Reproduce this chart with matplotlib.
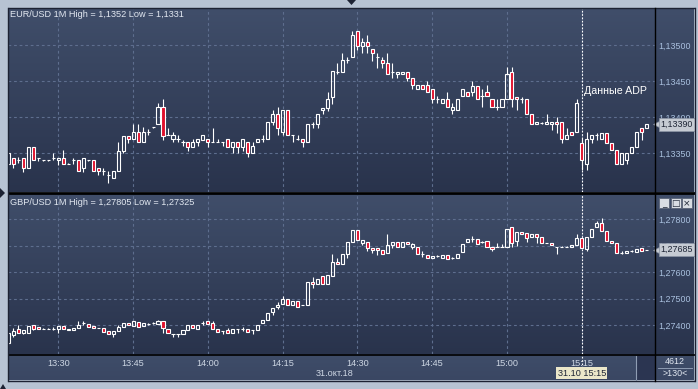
import numpy as np
import matplotlib.pyplot as plt
from matplotlib.colors import LinearSegmentedColormap
from matplotlib.patches import Rectangle, Polygon

plt.rcParams['font.family'] = ['Liberation Sans', 'DejaVu Sans']

W, H = 698, 389

# ---- data (1-minute candles, 31.10.2018, from 13:20) ----
start_time = "13:20"
time_labels = ["13:30", "13:45", "14:00", "14:15", "14:30", "14:45", "15:00", "15:15"]
event_time = "15:15"
event_text = "Данные ADP"
event_stamp = "31.10 15:15"
date_label = "31.окт.18"

eur_title = "EUR/USD 1M High = 1,1352 Low = 1,1331"
gbp_title = "GBP/USD 1M High = 1,27805 Low = 1,27325"

eur_ticks = [1.1335, 1.1340, 1.1345, 1.1350]
gbp_ticks = [1.274, 1.275, 1.276, 1.277, 1.278]

eur_open = [
    1.13335, 1.13343, 1.13340, 1.13343, 1.13329, 1.13358, 1.13343, 1.13340, 1.13340, 1.13343,
    1.13340, 1.13343, 1.13335, 1.13340, 1.13340, 1.13329, 1.13340, 1.13340, 1.13329, 1.13325,
    1.13319, 1.13315, 1.13325, 1.13353, 1.13374, 1.13369, 1.13379, 1.13365, 1.13379, 1.13386,
    1.13390, 1.13414, 1.13375, 1.13369, 1.13369, 1.13365, 1.13365, 1.13358, 1.13365, 1.13368,
    1.13369, 1.13365, 1.13365, 1.13365, 1.13369, 1.13358, 1.13365, 1.13358, 1.13365, 1.13350,
    1.13365, 1.13369, 1.13369, 1.13393, 1.13404, 1.13379, 1.13410, 1.13375, 1.13369, 1.13369,
    1.13365, 1.13390, 1.13390, 1.13410, 1.13413, 1.13428, 1.13463, 1.13463, 1.13479, 1.13483,
    1.13519, 1.13499, 1.13504, 1.13494, 1.13483, 1.13479, 1.13475, 1.13463, 1.13460, 1.13460,
    1.13463, 1.13454, 1.13439, 1.13444, 1.13444, 1.13439, 1.13425, 1.13419, 1.13425, 1.13410,
    1.13410, 1.13429, 1.13435, 1.13435, 1.13443, 1.13429, 1.13435, 1.13425, 1.13414, 1.13414,
    1.13425, 1.13463, 1.13428, 1.13425, 1.13425, 1.13404, 1.13390, 1.13392, 1.13390, 1.13390,
    1.13393, 1.13393, 1.13369, 1.13379, 1.13379, 1.13364, 1.13335, 1.13369, 1.13375, 1.13369,
    1.13378, 1.13364, 1.13354, 1.13335, 1.13340, 1.13350, 1.13358, 1.13385, 1.13385,
]
eur_high = [
    1.13350, 1.13343, 1.13344, 1.13343, 1.13358, 1.13358, 1.13343, 1.13340, 1.13340, 1.13350,
    1.13343, 1.13354, 1.13336, 1.13343, 1.13340, 1.13343, 1.13340, 1.13340, 1.13329, 1.13329,
    1.13325, 1.13325, 1.13365, 1.13374, 1.13374, 1.13390, 1.13390, 1.13386, 1.13383, 1.13386,
    1.13419, 1.13425, 1.13385, 1.13379, 1.13375, 1.13368, 1.13365, 1.13369, 1.13369, 1.13375,
    1.13369, 1.13385, 1.13369, 1.13365, 1.13369, 1.13365, 1.13365, 1.13369, 1.13365, 1.13365,
    1.13369, 1.13375, 1.13393, 1.13410, 1.13414, 1.13410, 1.13410, 1.13375, 1.13375, 1.13369,
    1.13390, 1.13393, 1.13404, 1.13413, 1.13435, 1.13464, 1.13475, 1.13489, 1.13483, 1.13519,
    1.13519, 1.13510, 1.13514, 1.13494, 1.13489, 1.13483, 1.13489, 1.13475, 1.13463, 1.13463,
    1.13463, 1.13454, 1.13444, 1.13444, 1.13450, 1.13439, 1.13429, 1.13425, 1.13435, 1.13419,
    1.13425, 1.13439, 1.13435, 1.13450, 1.13443, 1.13439, 1.13444, 1.13425, 1.13425, 1.13425,
    1.13469, 1.13469, 1.13428, 1.13428, 1.13425, 1.13404, 1.13393, 1.13393, 1.13404, 1.13393,
    1.13400, 1.13393, 1.13385, 1.13379, 1.13425, 1.13371, 1.13379, 1.13375, 1.13378, 1.13378,
    1.13378, 1.13364, 1.13354, 1.13350, 1.13350, 1.13358, 1.13379, 1.13385, 1.13390,
]
eur_low = [
    1.13335, 1.13329, 1.13336, 1.13324, 1.13329, 1.13340, 1.13339, 1.13339, 1.13339, 1.13340,
    1.13333, 1.13335, 1.13335, 1.13335, 1.13325, 1.13324, 1.13339, 1.13325, 1.13319, 1.13319,
    1.13308, 1.13315, 1.13325, 1.13350, 1.13364, 1.13369, 1.13365, 1.13365, 1.13375, 1.13385,
    1.13390, 1.13368, 1.13375, 1.13365, 1.13365, 1.13360, 1.13353, 1.13358, 1.13360, 1.13368,
    1.13358, 1.13365, 1.13365, 1.13360, 1.13358, 1.13350, 1.13350, 1.13353, 1.13344, 1.13350,
    1.13365, 1.13365, 1.13369, 1.13389, 1.13375, 1.13375, 1.13375, 1.13365, 1.13368, 1.13358,
    1.13365, 1.13385, 1.13385, 1.13404, 1.13408, 1.13418, 1.13460, 1.13463, 1.13475, 1.13483,
    1.13493, 1.13489, 1.13489, 1.13478, 1.13468, 1.13468, 1.13460, 1.13454, 1.13454, 1.13460,
    1.13450, 1.13439, 1.13439, 1.13439, 1.13435, 1.13419, 1.13419, 1.13419, 1.13414, 1.13404,
    1.13410, 1.13429, 1.13429, 1.13429, 1.13425, 1.13414, 1.13429, 1.13414, 1.13410, 1.13414,
    1.13425, 1.13414, 1.13410, 1.13419, 1.13404, 1.13390, 1.13390, 1.13390, 1.13390, 1.13382,
    1.13378, 1.13364, 1.13369, 1.13375, 1.13379, 1.13326, 1.13326, 1.13364, 1.13368, 1.13369,
    1.13364, 1.13354, 1.13335, 1.13335, 1.13335, 1.13350, 1.13358, 1.13368, 1.13385,
]
eur_close = [
    1.13350, 1.13335, 1.13340, 1.13329, 1.13358, 1.13340, 1.13343, 1.13340, 1.13340, 1.13343,
    1.13343, 1.13335, 1.13335, 1.13340, 1.13325, 1.13343, 1.13340, 1.13325, 1.13325, 1.13325,
    1.13319, 1.13325, 1.13353, 1.13374, 1.13369, 1.13379, 1.13365, 1.13379, 1.13379, 1.13386,
    1.13414, 1.13374, 1.13375, 1.13375, 1.13369, 1.13365, 1.13358, 1.13365, 1.13369, 1.13375,
    1.13365, 1.13365, 1.13365, 1.13365, 1.13358, 1.13365, 1.13358, 1.13369, 1.13350, 1.13360,
    1.13369, 1.13369, 1.13393, 1.13404, 1.13385, 1.13410, 1.13375, 1.13375, 1.13369, 1.13365,
    1.13390, 1.13390, 1.13404, 1.13413, 1.13425, 1.13464, 1.13463, 1.13479, 1.13479, 1.13514,
    1.13499, 1.13504, 1.13499, 1.13489, 1.13483, 1.13475, 1.13460, 1.13463, 1.13463, 1.13463,
    1.13454, 1.13444, 1.13444, 1.13439, 1.13435, 1.13425, 1.13425, 1.13425, 1.13414, 1.13414,
    1.13425, 1.13439, 1.13429, 1.13443, 1.13425, 1.13429, 1.13429, 1.13414, 1.13414, 1.13425,
    1.13460, 1.13425, 1.13425, 1.13425, 1.13404, 1.13390, 1.13393, 1.13392, 1.13393, 1.13393,
    1.13390, 1.13369, 1.13375, 1.13375, 1.13419, 1.13340, 1.13369, 1.13375, 1.13375, 1.13378,
    1.13364, 1.13354, 1.13335, 1.13350, 1.13350, 1.13358, 1.13379, 1.13379, 1.13390,
]

gbp_open = [
    1.27333, 1.27363, 1.27386, 1.27371, 1.27371, 1.27401, 1.27393, 1.27386, 1.27386, 1.27386,
    1.27386, 1.27397, 1.27382, 1.27382, 1.27390, 1.27408, 1.27405, 1.27397, 1.27390, 1.27390,
    1.27378, 1.27367, 1.27378, 1.27393, 1.27408, 1.27397, 1.27412, 1.27397, 1.27405, 1.27408,
    1.27405, 1.27416, 1.27386, 1.27367, 1.27367, 1.27367, 1.27382, 1.27401, 1.27386, 1.27408,
    1.27416, 1.27408, 1.27386, 1.27378, 1.27382, 1.27371, 1.27386, 1.27386, 1.27386, 1.27382,
    1.27382, 1.27408, 1.27420, 1.27450, 1.27469, 1.27480, 1.27499, 1.27477, 1.27492, 1.27477,
    1.27477, 1.27563, 1.27556, 1.27586, 1.27556, 1.27586, 1.27639, 1.27631, 1.27669, 1.27714,
    1.27760, 1.27711, 1.27714, 1.27692, 1.27692, 1.27684, 1.27673, 1.27703, 1.27714, 1.27695,
    1.27714, 1.27695, 1.27695, 1.27669, 1.27665, 1.27654, 1.27661, 1.27654, 1.27665, 1.27654,
    1.27654, 1.27677, 1.27714, 1.27726, 1.27726, 1.27714, 1.27718, 1.27695, 1.27695, 1.27695,
    1.27695, 1.27771, 1.27718, 1.27752, 1.27748, 1.27733, 1.27745, 1.27733, 1.27711, 1.27711,
    1.27695, 1.27695, 1.27695, 1.27695, 1.27703, 1.27729, 1.27688, 1.27733, 1.27771, 1.27786,
    1.27756, 1.27718, 1.27711, 1.27673, 1.27673, 1.27680, 1.27677, 1.27692, 1.27685,
]
gbp_high = [
    1.27371, 1.27390, 1.27401, 1.27382, 1.27397, 1.27401, 1.27393, 1.27390, 1.27390, 1.27393,
    1.27397, 1.27397, 1.27386, 1.27390, 1.27416, 1.27416, 1.27405, 1.27397, 1.27390, 1.27390,
    1.27378, 1.27378, 1.27401, 1.27408, 1.27408, 1.27416, 1.27412, 1.27408, 1.27408, 1.27412,
    1.27420, 1.27416, 1.27386, 1.27367, 1.27367, 1.27382, 1.27401, 1.27401, 1.27401, 1.27416,
    1.27416, 1.27416, 1.27386, 1.27378, 1.27390, 1.27386, 1.27386, 1.27393, 1.27386, 1.27382,
    1.27401, 1.27420, 1.27446, 1.27465, 1.27488, 1.27510, 1.27499, 1.27492, 1.27492, 1.27477,
    1.27563, 1.27582, 1.27575, 1.27586, 1.27590, 1.27669, 1.27654, 1.27669, 1.27714, 1.27760,
    1.27760, 1.27722, 1.27714, 1.27692, 1.27692, 1.27684, 1.27745, 1.27714, 1.27714, 1.27714,
    1.27714, 1.27711, 1.27695, 1.27680, 1.27665, 1.27661, 1.27665, 1.27665, 1.27665, 1.27658,
    1.27669, 1.27707, 1.27726, 1.27737, 1.27726, 1.27718, 1.27718, 1.27695, 1.27711, 1.27707,
    1.27763, 1.27771, 1.27752, 1.27752, 1.27748, 1.27745, 1.27745, 1.27733, 1.27711, 1.27711,
    1.27695, 1.27699, 1.27699, 1.27703, 1.27745, 1.27729, 1.27733, 1.27763, 1.27794, 1.27805,
    1.27756, 1.27718, 1.27711, 1.27680, 1.27680, 1.27684, 1.27688, 1.27692, 1.27685,
]
gbp_low = [
    1.27326, 1.27356, 1.27371, 1.27367, 1.27371, 1.27382, 1.27386, 1.27386, 1.27386, 1.27382,
    1.27371, 1.27386, 1.27382, 1.27382, 1.27390, 1.27401, 1.27393, 1.27390, 1.27390, 1.27375,
    1.27367, 1.27356, 1.27378, 1.27393, 1.27401, 1.27397, 1.27393, 1.27397, 1.27401, 1.27405,
    1.27405, 1.27371, 1.27371, 1.27356, 1.27356, 1.27367, 1.27382, 1.27390, 1.27386, 1.27401,
    1.27405, 1.27386, 1.27375, 1.27367, 1.27371, 1.27371, 1.27371, 1.27378, 1.27375, 1.27367,
    1.27382, 1.27408, 1.27420, 1.27439, 1.27461, 1.27480, 1.27477, 1.27477, 1.27469, 1.27477,
    1.27477, 1.27541, 1.27556, 1.27556, 1.27556, 1.27586, 1.27631, 1.27631, 1.27654, 1.27714,
    1.27722, 1.27703, 1.27680, 1.27673, 1.27665, 1.27669, 1.27673, 1.27692, 1.27695, 1.27695,
    1.27707, 1.27688, 1.27669, 1.27658, 1.27654, 1.27654, 1.27658, 1.27654, 1.27650, 1.27650,
    1.27654, 1.27677, 1.27714, 1.27714, 1.27707, 1.27711, 1.27695, 1.27680, 1.27695, 1.27695,
    1.27695, 1.27695, 1.27699, 1.27745, 1.27714, 1.27733, 1.27711, 1.27711, 1.27711, 1.27703,
    1.27669, 1.27695, 1.27695, 1.27695, 1.27703, 1.27692, 1.27680, 1.27733, 1.27771, 1.27756,
    1.27718, 1.27711, 1.27673, 1.27669, 1.27673, 1.27677, 1.27677, 1.27680, 1.27685,
]
gbp_close = [
    1.27371, 1.27378, 1.27371, 1.27382, 1.27397, 1.27386, 1.27386, 1.27386, 1.27386, 1.27386,
    1.27397, 1.27386, 1.27386, 1.27390, 1.27401, 1.27408, 1.27393, 1.27390, 1.27390, 1.27375,
    1.27367, 1.27378, 1.27393, 1.27408, 1.27401, 1.27416, 1.27393, 1.27408, 1.27405, 1.27408,
    1.27416, 1.27390, 1.27371, 1.27367, 1.27367, 1.27382, 1.27401, 1.27390, 1.27401, 1.27408,
    1.27405, 1.27386, 1.27375, 1.27378, 1.27371, 1.27386, 1.27386, 1.27386, 1.27375, 1.27382,
    1.27401, 1.27420, 1.27446, 1.27465, 1.27477, 1.27499, 1.27477, 1.27492, 1.27469, 1.27477,
    1.27563, 1.27556, 1.27575, 1.27556, 1.27590, 1.27639, 1.27631, 1.27669, 1.27714, 1.27760,
    1.27722, 1.27722, 1.27692, 1.27684, 1.27684, 1.27669, 1.27703, 1.27714, 1.27695, 1.27714,
    1.27707, 1.27707, 1.27669, 1.27669, 1.27654, 1.27661, 1.27661, 1.27665, 1.27650, 1.27654,
    1.27669, 1.27707, 1.27726, 1.27726, 1.27707, 1.27714, 1.27695, 1.27688, 1.27695, 1.27695,
    1.27763, 1.27711, 1.27752, 1.27745, 1.27729, 1.27745, 1.27733, 1.27711, 1.27711, 1.27703,
    1.27695, 1.27695, 1.27695, 1.27703, 1.27729, 1.27692, 1.27733, 1.27763, 1.27786, 1.27756,
    1.27718, 1.27711, 1.27673, 1.27673, 1.27680, 1.27680, 1.27688, 1.27680, 1.27685,
]

# ---- colours ----
FRAME = "#b7c3d3"
PANEL_TOP = "#404e6a"
PANEL_BOT = "#29334c"
UP_EDGE = "#ffffff"
DOWN_FILL = "#e0102c"
GRID = "#5e6e8e"
TEXT = "#e2e8f1"
PRICE_TXT = "#a9c0de"
TAG = "#c6cbd3"


def minutes(t):
    h, m = t.split(":")
    return int(h) * 60 + int(m)


t0 = minutes(start_time)
tick_pos = [minutes(t) - t0 for t in time_labels]
event_idx = minutes(event_time) - t0

fig = plt.figure(figsize=(W / 100, H / 100), dpi=100)
fig.patch.set_facecolor(FRAME)


def px_axes(x0, y0, x1, y1):
    return fig.add_axes([x0 / W, 1 - y1 / H, (x1 - x0) / W, (y1 - y0) / H])


def gradient(x0, y0, x1, y1, c_top, c_bot):
    a = px_axes(x0, y0, x1, y1)
    cmap = LinearSegmentedColormap.from_list("g", [c_top, c_bot])
    a.imshow(np.linspace(0, 1, 200)[:, None], cmap=cmap, aspect="auto", extent=(0, 1, 0, 1))
    a.set_axis_off()
    return a


def draw_candles(ax, o, h, l, c):
    o, h, l, c = map(np.asarray, (o, h, l, c))
    x = np.arange(len(o))
    top = np.maximum(o, c)
    bot = np.minimum(o, c)
    ax.vlines(x, top, h, color=UP_EDGE, lw=0.8, zorder=3)
    ax.vlines(x, l, bot, color=UP_EDGE, lw=0.8, zorder=3)
    up = c >= o
    ax.bar(x[up], (top - bot)[up], bottom=bot[up], width=0.62,
           facecolor="none", edgecolor=UP_EDGE, lw=0.8, zorder=4)
    ax.bar(x[~up], (top - bot)[~up], bottom=bot[~up], width=0.62,
           facecolor=DOWN_FILL, edgecolor=UP_EDGE, lw=0.8, zorder=4)


def style_panel(ax, ticks, ylim, decimals):
    ax.set_facecolor("none")
    for s in ax.spines.values():
        s.set_visible(False)
    ax.set_xlim(-0.1, 129.7)
    ax.set_ylim(*ylim)
    ax.set_xticks(tick_pos)
    ax.set_yticks(ticks)
    ax.set_yticklabels([f"{v:.{decimals}f}".replace(".", ",") for v in ticks])
    ax.yaxis.tick_right()
    ax.tick_params(axis="y", length=0, pad=2.5, labelsize=6.4, labelcolor=PRICE_TXT)
    ax.grid(True, color=GRID, lw=0.8, ls=(0, (2.5, 2.5)))
    ax.set_axisbelow(True)
    ax.axvline(event_idx, color="white", lw=0.8, ls=(0, (1.5, 1.5)), zorder=2)


def price_tag(ax, value, decimals):
    # current price marker drawn over the price scale
    tr = ax.get_yaxis_transform()
    ax.plot([1.0045], [value], marker="<", ms=6.5, color=TAG, mec="#8d96a6", mew=0.5,
            transform=tr, clip_on=False, zorder=6)
    ax.text(1.0085, value, f"{value:.{decimals}f}".replace(".", ","), transform=tr,
            ha="left", va="center", fontsize=6.4, color="#1d2434", zorder=7,
            bbox=dict(boxstyle="square,pad=0.22", fc=TAG, ec="#8d96a6", lw=0.5))


# backgrounds
gradient(8, 8, 694, 192, PANEL_TOP, PANEL_BOT)
gradient(8, 194, 694, 354, PANEL_TOP, PANEL_BOT)
gradient(8, 354, 694, 380, "#3f4d69", "#3a4763")

# EUR/USD panel
ax1 = px_axes(8, 8, 655, 192)
style_panel(ax1, eur_ticks, (1.132958, 1.135514), 5)
ax1.tick_params(axis="x", length=0, labelbottom=False)
draw_candles(ax1, eur_open, eur_high, eur_low, eur_close)
price_tag(ax1, eur_close[-1], 5)
ax1.text(event_idx + 0.4, 1.13436, event_text, color="white", fontsize=7.7,
         va="center", ha="left", zorder=5)

# GBP/USD panel
ax2 = px_axes(8, 194, 655, 354)
style_panel(ax2, gbp_ticks, (1.272917, 1.278955), 5)
ax2.set_xticklabels(time_labels)
ax2.tick_params(axis="x", length=0, pad=3.5, labelsize=6.6, labelcolor="#cdd6e3")
draw_candles(ax2, gbp_open, gbp_high, gbp_low, gbp_close)
price_tag(ax2, gbp_close[-1], 5)
ax2.axvline(event_idx, ymin=-0.085, ymax=0, color="white", lw=0.8,
            ls=(0, (1.5, 1.5)), clip_on=False, zorder=2)
ax2.text(event_idx, -0.12, event_stamp, transform=ax2.get_xaxis_transform(),
         ha="center", va="center", fontsize=6.6, color="#1d2434", zorder=7,
         bbox=dict(boxstyle="square,pad=0.15", fc="#ebe7c9", ec="none"))

# overlay: frame lines, headers and small widgets
ov = px_axes(0, 0, W, H)
ov.set_xlim(0, W)
ov.set_ylim(H, 0)
ov.set_axis_off()
ov.patch.set_alpha(0)

ov.add_patch(Rectangle((636, 355), 19, 25, fc="#2b3551", ec="none"))
ov.plot([636, 636], [356, 380], color="#8f9db3", lw=0.8)

for y, lw, col in [(7.5, 1.0, "#1c2233"), (192.6, 2.0, "black"), (354.5, 1.2, "black"),
                   (380.5, 1.0, "#1c2233")]:
    ov.plot([7.5, 694.5], [y, y], color=col, lw=lw, solid_capstyle="butt")
ov.plot([7.5, 7.5], [7.5, 380.5], color="#1c2233", lw=1.0)
ov.plot([694.5, 694.5], [7.5, 380.5], color="#1c2233", lw=1.0)
ov.plot([655, 655], [7.5, 380.5], color="black", lw=1.0)

ov.text(10, 14, eur_title, color=TEXT, fontsize=6.6, va="center", ha="left")
ov.text(10, 202, gbp_title, color=TEXT, fontsize=6.6, va="center", ha="left")
ov.text(334.5, 373.5, date_label, color="#cdd6e3", fontsize=6.6, va="center", ha="center")

ov.text(675, 362, "4612", color=TEXT, fontsize=6.4, va="center", ha="center")
ov.plot([658, 692], [368, 368], color="#9aa8be", lw=0.6)
ov.text(675, 374, ">130<", color=TEXT, fontsize=6.4, va="center", ha="center")

# window buttons
for i, sym in enumerate(["_", "□", "×"]):
    bx = 659 + i * 11.5
    ov.add_patch(Rectangle((bx, 198), 10, 10, fc="#d9dde3", ec="#5a6477", lw=0.6))
    ov.text(bx + 5, 203.3, sym, color="#202838", fontsize=6.5, va="center", ha="center",
            family=["DejaVu Sans"])

# little frame arrows
ov.add_patch(Polygon([[0, 188], [0, 198], [5, 193]], closed=True, fc="#1c2233", ec="none"))
ov.add_patch(Polygon([[347, 0], [356, 0], [351.5, 5]], closed=True, fc="#1c2233", ec="none"))
ov.add_patch(Polygon([[0, 389], [6, 389], [3, 384]], closed=True, fc="#1c2233", ec="none"))

fig.savefig("out.png", dpi=100, facecolor=fig.get_facecolor())
